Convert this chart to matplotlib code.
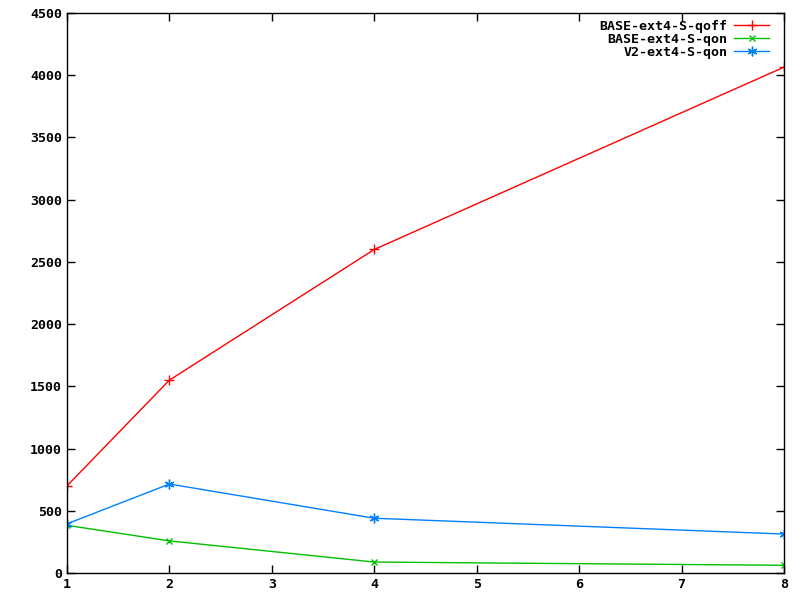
import matplotlib.pyplot as plt

threads = [1, 2, 4, 8]
base_qoff = [700, 1550, 2600, 4065]
base_qon = [383, 258, 88, 62]
v2_qon = [395, 715, 440, 313]

plt.rcParams['font.family'] = 'DejaVu Sans Mono'
plt.rcParams['font.weight'] = 'bold'
plt.rcParams['font.size'] = 9.5

fig = plt.figure(figsize=(8, 6), dpi=100)
ax = fig.add_axes([67 / 800, 27 / 600, 717 / 800, 560 / 600])

ax.plot(threads, base_qoff, color='#ff0000', lw=1, marker='+', markersize=7, mew=1, label='BASE-ext4-S-qoff')
ax.plot(threads, base_qon, color='#00c000', lw=1, marker='x', markersize=5, mew=1, label='BASE-ext4-S-qon')
ax.plot(threads, v2_qon, color='#0080ff', lw=1, marker=(6, 2, 0), markersize=7, mew=1, label='V2-ext4-S-qon')

ax.set_xlim(1, 8)
ax.set_ylim(0, 4500)
ax.set_xticks(range(1, 9))
ax.set_yticks(range(0, 4501, 500))
ax.tick_params(direction='in', top=True, right=True, length=6, width=1)
for s in ax.spines.values():
    s.set_linewidth(1)

ax.legend(loc='upper right', bbox_to_anchor=(1 - 12 / 717, 1 - 4 / 560), frameon=False,
          markerfirst=False, handlelength=2.7, borderaxespad=0, borderpad=0.2,
          labelspacing=0.0, handletextpad=0.5)

fig.savefig('out.png')
